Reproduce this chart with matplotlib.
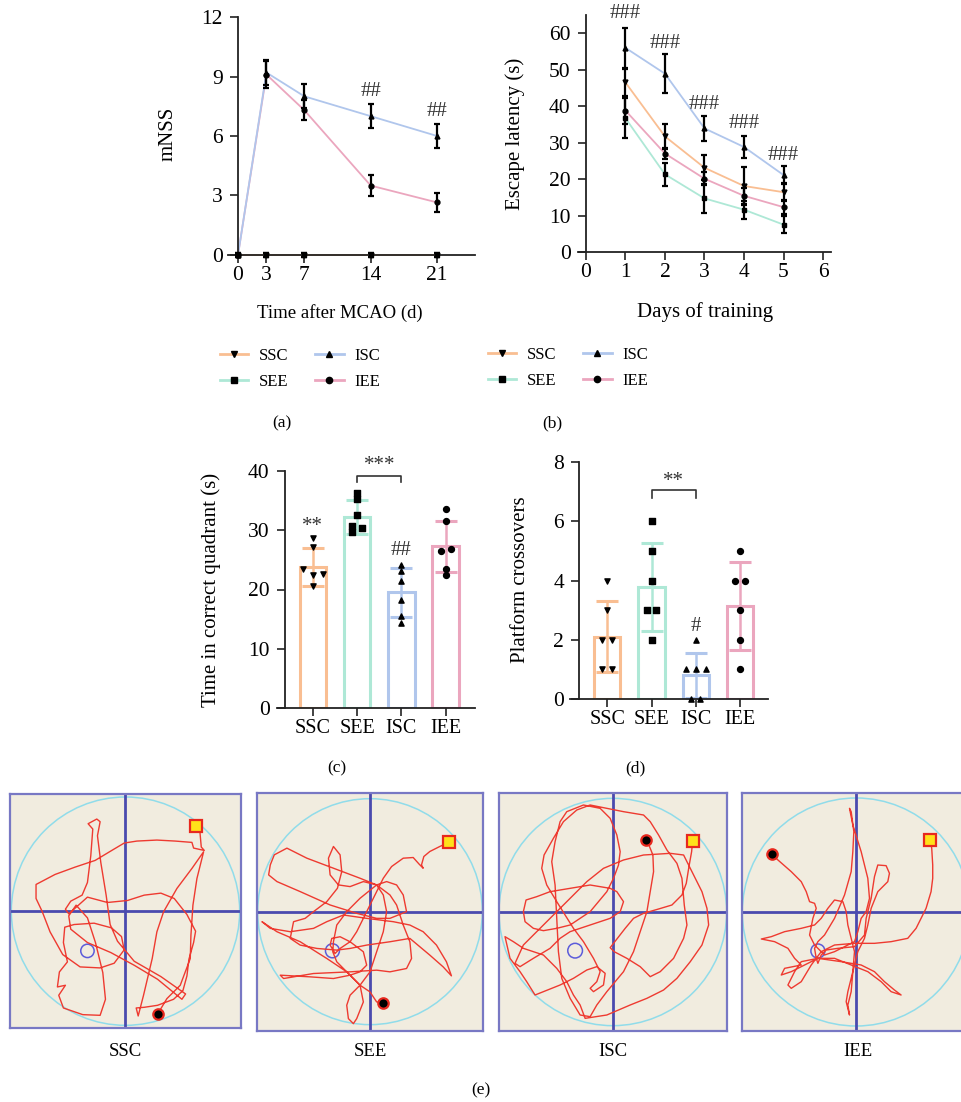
import matplotlib
matplotlib.use("Agg")
import matplotlib.pyplot as plt
from matplotlib.lines import Line2D
from matplotlib.patches import Circle
import numpy as np

plt.rcParams["font.family"] = ["Liberation Serif", "DejaVu Serif"]
plt.rcParams["font.size"] = 15

W, H = 962, 1102

groups = ["SSC", "SEE", "ISC", "IEE"]
colors = {"SSC": "#F9BE92", "SEE": "#AEE8D6", "ISC": "#B0C6EC", "IEE": "#EBA6BE"}
markers = {"SSC": "v", "SEE": "s", "ISC": "^", "IEE": "o"}

# (a) mNSS
days_a = [0, 3, 7, 14, 21]
mnss = {"SSC": [0, 0, 0, 0, 0], "SEE": [0, 0, 0, 0, 0],
        "ISC": [0, 9.2, 8.0, 7.0, 6.0], "IEE": [0, 9.1, 7.3, 3.5, 2.65]}
mnss_err = {"SSC": [0.08, 0.08, 0.08, 0.08, 0.08], "SEE": [0.08, 0.08, 0.08, 0.08, 0.08],
            "ISC": [0, 0.65, 0.6, 0.6, 0.6], "IEE": [0, 0.7, 0.5, 0.55, 0.5]}
mnss_sig = ["", "", "", "##", "##"]

# (b) escape latency
days_b = [1, 2, 3, 4, 5]
latency = {"SSC": [46.5, 31.7, 23.1, 18.1, 16.4], "SEE": [36.7, 21.3, 14.7, 11.6, 7.5],
           "ISC": [56.0, 48.9, 33.9, 28.8, 21.1], "IEE": [38.8, 27.0, 20.1, 15.4, 12.3]}
latency_err = {"SSC": [3.8, 3.4, 3.4, 5.2, 2.5], "SEE": [5.4, 3.1, 4.0, 2.5, 2.3],
               "ISC": [5.5, 5.4, 3.5, 3.1, 2.4], "IEE": [3.6, 1.5, 1.8, 2.1, 1.9]}
latency_sig = ["###", "###", "###", "###", "###"]
latency_sig_y = [65.5, 57.3, 40.5, 35.3, 26.6]

# (c) time in correct quadrant
quad_mean = [23.8, 32.2, 19.5, 27.3]
quad_sd = [3.2, 2.9, 4.1, 4.3]
quad_pts = {"SSC": [28.7, 27.2, 23.4, 22.4, 22.6, 20.6],
            "SEE": [36.3, 35.2, 32.5, 30.7, 30.4, 29.7],
            "ISC": [24.1, 23.2, 21.5, 18.2, 15.6, 14.4],
            "IEE": [33.6, 31.6, 26.5, 26.9, 23.5, 22.4]}
quad_jit = {"SSC": [0, 0, -0.22, 0, 0.23, 0], "SEE": [0, 0, 0, -0.11, 0.11, -0.11],
            "ISC": [0, 0, 0, 0, 0, 0], "IEE": [0, 0, -0.11, 0.11, 0, 0]}

# (d) platform crossovers
cross_mean = [2.1, 3.78, 0.8, 3.13]
cross_sd = [1.2, 1.48, 0.76, 1.48]
cross_pts = {"SSC": [4, 3, 2, 2, 1, 1], "SEE": [6, 5, 4, 3, 3, 2],
             "ISC": [2, 1, 1, 1, 0, 0], "IEE": [5, 4, 4, 3, 2, 1]}
cross_jit = {"SSC": [0, 0, -0.11, 0.11, -0.11, 0.11], "SEE": [0, 0, 0, -0.11, 0.11, 0],
             "ISC": [0, -0.22, 0, 0.22, -0.1, 0.1], "IEE": [0, -0.11, 0.11, 0, 0, 0]}

# (e) swim tracks, read on each box's own grid: frame (x0, x1, y0, y1)
frames = {"SSC": (30, 722, 27, 728), "SEE": (20, 700, 25, 737),
          "ISC": (27, 710, 24, 738), "IEE": (22, 707, 24, 738)}
pool = {"SSC": (376, 378, 342), "SEE": (360, 380, 338), "ISC": (368, 381, 341), "IEE": (365, 381, 342)}
platform = {"SSC": (262, 497, 20), "SEE": (247, 497, 21), "ISC": (255, 497, 22), "IEE": (250, 498, 21)}
start_sq = {"SSC": (587, 122), "SEE": (597, 173), "ISC": (607, 168), "IEE": (588, 165)}
end_dot = {"SSC": (473, 685), "SEE": (398, 652), "ISC": (468, 166), "IEE": (112, 208)}

track_ssc = [
    (587, 122), (598, 130), (603, 186), (612, 196), (598, 193), (580, 189), (575, 172), (525, 168), (470, 165),
    (410, 168), (372, 174), (335, 196), (285, 226), (225, 246), (165, 268), (108, 298), (108, 340), (126, 378),
    (150, 440), (188, 508), (240, 545), (300, 548), (342, 534), (372, 494), (364, 454), (334, 428), (282, 414),
    (222, 418), (194, 426), (190, 472), (202, 530), (178, 560), (172, 605), (196, 600), (176, 630), (190, 668),
    (248, 688), (300, 690), (316, 642), (308, 562), (286, 472), (262, 398), (228, 360), (206, 392), (212, 432),
    (262, 472), (332, 502), (402, 540), (472, 582), (545, 642), (556, 626), (482, 574), (402, 528), (352, 468),
    (330, 418), (318, 330), (302, 232), (292, 152), (300, 110), (290, 102), (264, 116), (278, 132), (272, 212),
    (262, 292), (246, 330), (212, 348), (196, 372), (206, 386), (262, 336), (322, 352), (382, 346), (432, 330),
    (482, 324), (522, 340), (560, 388), (586, 438), (580, 472), (566, 522), (560, 572), (548, 616), (520, 642),
    (472, 660), (432, 666), (408, 668), (414, 692), (430, 630), (456, 520), (470, 440), (490, 380), (530, 310),
    (575, 250), (610, 200), (590, 280), (578, 360), (572, 450), (570, 520), (540, 600), (500, 640), (473, 685)]

track_see = [
    (597, 173), (570, 185), (540, 200), (522, 215), (515, 240), (520, 250), (508, 238), (490, 218), (460, 220),
    (425, 245), (400, 280), (380, 320), (360, 360), (340, 400), (320, 440), (300, 470), (270, 490), (255, 505),
    (240, 480), (245, 460), (270, 455), (300, 470), (340, 500), (350, 540), (330, 560), (300, 570), (250, 580),
    (180, 575), (90, 570), (100, 580), (190, 565), (300, 560), (380, 555), (420, 560), (470, 550), (485, 520),
    (480, 470), (460, 420), (440, 360), (420, 330), (380, 300), (340, 290), (300, 305), (265, 300), (240, 270),
    (235, 220), (250, 185), (270, 210), (275, 260), (262, 310), (230, 350), (190, 380), (165, 400), (130, 410),
    (120, 460), (150, 480), (200, 490), (260, 495), (300, 490), (350, 480), (420, 470), (480, 460), (540, 510),
    (580, 545), (605, 572), (590, 530), (560, 480), (520, 440), (480, 420), (430, 410), (350, 400), (280, 390),
    (230, 410), (190, 430), (120, 440), (60, 430), (35, 410), (80, 440), (150, 470), (230, 520), (290, 560),
    (330, 600), (340, 650), (320, 700), (310, 715), (295, 700), (290, 660), (300, 630), (330, 600), (360, 560),
    (380, 500), (400, 440), (410, 380), (400, 330), (380, 300), (330, 280), (250, 250), (170, 220), (110, 190),
    (72, 210), (60, 240), (55, 270), (80, 290), (150, 320), (240, 360), (320, 385), (380, 400), (420, 400),
    (470, 380), (460, 330), (440, 300), (410, 290), (380, 300), (330, 340), (290, 380), (260, 420), (250, 470),
    (248, 500), (260, 530), (290, 560), (310, 580), (330, 600), (360, 620), (380, 650), (398, 652)]

track_isc = [
    (607, 168), (604, 200), (596, 245), (588, 295), (575, 330), (545, 360), (505, 372), (460, 385), (430, 400),
    (405, 430), (378, 465), (360, 488), (372, 500), (410, 520), (450, 545), (480, 575), (510, 560), (550, 520),
    (580, 460), (590, 420), (582, 360), (575, 280), (560, 235), (530, 195), (505, 150), (480, 110), (460, 90),
    (400, 80), (350, 70), (300, 60), (260, 75), (220, 110), (190, 160), (162, 210), (155, 250), (170, 300),
    (200, 350), (225, 390), (250, 430), (280, 470), (310, 520), (330, 560), (320, 590), (300, 610), (310, 620),
    (340, 600), (345, 565), (320, 545), (290, 555), (250, 580), (210, 600), (160, 620), (135, 630), (110, 590),
    (90, 560), (60, 520), (45, 455), (70, 470), (100, 490), (130, 500), (160, 510), (200, 550), (230, 590),
    (250, 630), (270, 660), (285, 700), (350, 690), (420, 660), (470, 640), (520, 615), (560, 580), (600, 530),
    (635, 480), (655, 420), (650, 370), (635, 320), (615, 280), (600, 250), (590, 230), (580, 210), (540, 205),
    (460, 210), (400, 225), (340, 250), (290, 290), (250, 330), (210, 370), (170, 410), (130, 450), (100, 480),
    (75, 535), (90, 545), (130, 520), (180, 490), (210, 460), (240, 440), (300, 420), (360, 400), (390, 380),
    (400, 350), (380, 320), (360, 310), (300, 300), (240, 310), (180, 320), (140, 335), (108, 345), (100, 380),
    (105, 410), (130, 430), (160, 437), (200, 430), (240, 420), (300, 380), (350, 320), (370, 280), (385, 240),
    (390, 200), (380, 150), (360, 100), (330, 70), (280, 60), (230, 80), (210, 110), (195, 170), (185, 230),
    (195, 300), (200, 400), (205, 500), (215, 580), (240, 640), (270, 690), (300, 695), (320, 660), (350, 620),
    (400, 560), (430, 500), (450, 440), (470, 380), (480, 320), (490, 260), (488, 210), (478, 185), (468, 166)]

track_iee = [
    (112, 208), (130, 225), (170, 260), (200, 290), (215, 320), (225, 350), (240, 355), (245, 370), (235, 400),
    (225, 450), (240, 480), (270, 510), (300, 500), (340, 480), (360, 470), (370, 440), (380, 400), (395, 380),
    (405, 340), (400, 280), (380, 200), (355, 120), (345, 70), (350, 80), (358, 140), (355, 200), (350, 260),
    (330, 330), (300, 400), (270, 450), (250, 470), (240, 490), (245, 520), (250, 535), (260, 510), (275, 495),
    (310, 490), (360, 485), (390, 450), (395, 400), (410, 340), (420, 275), (430, 240), (455, 242), (465, 265),
    (460, 290), (430, 320), (410, 370), (400, 420), (390, 460), (370, 500), (360, 540), (350, 580), (340, 620),
    (335, 650), (345, 690), (340, 660), (350, 620), (355, 560), (360, 500), (350, 460), (340, 420), (335, 380),
    (325, 350), (300, 345), (280, 370), (260, 400), (240, 420), (200, 430), (150, 440), (110, 455), (80, 462),
    (120, 470), (160, 490), (180, 520), (200, 540), (150, 550), (140, 570), (170, 560), (200, 545), (250, 520),
    (300, 520), (350, 540), (400, 560), (440, 590), (470, 620), (500, 630), (480, 615), (450, 590), (420, 560),
    (380, 540), (320, 530), (250, 520), (200, 530), (180, 560), (160, 600), (170, 610), (200, 590), (230, 540),
    (260, 500), (300, 480), (360, 475), (420, 475), (470, 470), (520, 460), (545, 430), (560, 400), (575, 370),
    (590, 320), (595, 280), (595, 240), (592, 190), (588, 165)]

tracks = {"SSC": track_ssc, "SEE": track_see, "ISC": track_isc, "IEE": track_iee}

SIG = dict(ha="center", va="center", fontsize=15, color="#333333")


def rect(x0, y0, x1, y1):
    return [x0 / W, 1 - y1 / H, (x1 - x0) / W, (y1 - y0) / H]


def ftext(x, y, s, **kw):
    fig.text(x / W, 1 - y / H, s, ha=kw.pop("ha", "center"), va=kw.pop("va", "center"), **kw)


def style_axes(ax, left_at, xsize=15.5):
    for s in ["top", "right"]:
        ax.spines[s].set_visible(False)
    for s in ["left", "bottom"]:
        ax.spines[s].set_color("#222222")
        ax.spines[s].set_linewidth(1.3)
    ax.spines["left"].set_position(("data", left_at))
    ax.tick_params(direction="out", length=6, width=1.2, color="#222222")
    ax.tick_params(axis="y", pad=5, labelsize=15.5)
    ax.tick_params(axis="x", pad=2, labelsize=xsize)
    ax.set_facecolor("none")


fig = plt.figure(figsize=(W / 100, H / 100), dpi=100)

# ---- (a)
ax = fig.add_axes(rect(228.5, 17, 475, 255))
for g in ["SEE", "SSC", "IEE", "ISC"]:
    ax.plot(days_a, mnss[g], color=colors[g], lw=1.3, zorder=2, clip_on=False)
    ax.errorbar(days_a, mnss[g], yerr=mnss_err[g], fmt=markers[g], color="black", ms=3.5,
                ecolor="black", elinewidth=1.6, capsize=2.5, capthick=1.6, zorder=3, clip_on=False)
for d, s, y, e in zip(days_a, mnss_sig, mnss["ISC"], mnss_err["ISC"]):
    if s:
        ax.text(d, y + e + 0.65, s, **SIG)
ax.set_xlim(-1, 25)
ax.set_ylim(0, 12)
ax.set_xticks(days_a)
ax.set_yticks([0, 3, 6, 9, 12])
style_axes(ax, 0)
ftext(168, 134, "mNSS", rotation=90)
ftext(340, 313, "Time after MCAO (d)", fontsize=13.5)

handles = [Line2D([], [], color=colors[g], lw=2, marker=markers[g], mfc="black", mec="black", ms=4.5)
           for g in groups]
leg_kw = dict(ncol=2, loc="center", frameon=False, handlelength=1.7, handletextpad=0.65,
              columnspacing=1.6, labelspacing=0.6, numpoints=1, fontsize=12)
fig.legend(handles, groups, bbox_to_anchor=(300 / W, 1 - 369 / H), **leg_kw)
ftext(282, 423, "(a)", fontsize=12.5)

# ---- (b)
ax = fig.add_axes(rect(578, 15, 831, 252))
for g in ["SSC", "ISC", "IEE", "SEE"]:
    ax.plot(days_b, latency[g], color=colors[g], lw=1.3, zorder=2)
    ax.errorbar(days_b, latency[g], yerr=latency_err[g], fmt=markers[g], color="black", ms=3.5,
                ecolor="black", elinewidth=1.6, capsize=2.5, capthick=1.6, zorder=3)
for d, s, y in zip(days_b, latency_sig, latency_sig_y):
    ax.text(d, y, s, clip_on=False, **SIG)
ax.set_xlim(-0.2, 6.2)
ax.set_ylim(0, 65)
ax.set_xticks(range(0, 7))
ax.set_yticks(range(0, 61, 10))
style_axes(ax, 0)
ftext(515, 134, "Escape latency (s)", rotation=90)
ftext(705, 312, "Days of training")
fig.legend(handles, groups, bbox_to_anchor=(568 / W, 1 - 368 / H), **leg_kw)
ftext(552, 423, "(b)", fontsize=12.5)


def bar_panel(ax, means, sds, pts, jit):
    x = np.arange(len(groups))
    for i, g in enumerate(groups):
        ax.bar(x[i], means[i], width=0.6, facecolor="white", edgecolor=colors[g], linewidth=2.2, zorder=1)
        ax.errorbar(x[i], means[i], yerr=sds[i], fmt="none", ecolor=colors[g], elinewidth=1.8,
                    capsize=8, capthick=2.2, zorder=2)
        ms = {"v": 14, "s": 22, "^": 14, "o": 18}[markers[g]]
        ax.scatter(x[i] + np.array(jit[g]), pts[g], marker=markers[g], s=ms, color="black", zorder=3,
                   clip_on=False)
    ax.set_xticks(x)
    ax.set_xticklabels(groups)


def bracket(ax, x0, x1, y, drop, label, ty):
    ax.plot([x0, x0, x1, x1], [y - drop, y, y, y - drop], color="#333333", lw=1.2, clip_on=False)
    ax.text((x0 + x1) / 2, ty, label, **SIG)


# ---- (c)
ax = fig.add_axes(rect(277, 471, 475, 708))
bar_panel(ax, quad_mean, quad_sd, quad_pts, quad_jit)
ax.set_xlim(-0.81, 3.66)
ax.set_ylim(0, 40)
ax.set_yticks(range(0, 41, 10))
style_axes(ax, -0.63, xsize=14.5)
bracket(ax, 1, 2, 39.2, 1.1, "***", 40.9)
ax.text(0, 30.6, "**", **SIG)
ax.text(2, 26.5, "##", **SIG)
ftext(211, 590, "Time in correct quadrant (s)", rotation=90)
ftext(337, 768, "(c)", fontsize=12.5)

# ---- (d)
ax = fig.add_axes(rect(570, 462, 768, 699))
bar_panel(ax, cross_mean, cross_sd, cross_pts, cross_jit)
ax.set_xlim(-0.84, 3.63)
ax.set_ylim(0, 8)
ax.set_yticks(range(0, 9, 2))
style_axes(ax, -0.63, xsize=14.5)
bracket(ax, 1, 2, 7.05, 0.25, "**", 7.35)
ax.text(2, 2.45, "#", **SIG)
ftext(521, 580, "Platform crossovers", rotation=90)
ftext(635, 768, "(d)", fontsize=12.5)

# ---- (e)
boxes = {"SSC": (10, 794, 241, 1028), "SEE": (257, 793, 483, 1031),
         "ISC": (499, 793, 727, 1031), "IEE": (742, 793, 970, 1031)}
for g in groups:
    bx = boxes[g]
    ax = fig.add_axes(rect(*bx))
    fx0, fx1, fy0, fy1 = frames[g]
    ax.set_xlim(fx0, fx1)
    ax.set_ylim(fy1, fy0)
    ax.set_facecolor("#F1ECDF")
    ax.set_xticks([])
    ax.set_yticks([])
    for s in ax.spines.values():
        s.set_color("#7878C4")
        s.set_linewidth(1.6)
    cx, cy, r = pool[g]
    ax.add_patch(Circle((cx, cy), r, fill=False, edgecolor="#90DCEA", lw=1.1))
    ax.axvline(cx, color="#4A4AAE", lw=2.0)
    ax.axhline(cy, color="#4A4AAE", lw=2.0)
    px, py, pr = platform[g]
    ax.add_patch(Circle((px, py), pr, fill=False, edgecolor="#5C5CDA", lw=1.1))
    tx, ty = zip(*tracks[g])
    ax.plot(tx, ty, color="#EE3A30", lw=1.0, solid_joinstyle="round")
    sx, sy = start_sq[g]
    ax.plot(sx, sy, marker="s", ms=8, mfc="#FFE11A", mec="#E8281E", mew=1.6)
    ex, ey = end_dot[g]
    ax.plot(ex, ey, marker="o", ms=7.5, mfc="black", mec="#E8281E", mew=1.6)
    ftext((bx[0] + bx[2]) / 2 if g != "IEE" else 858, 1051, g, fontsize=13.5)
ftext(481, 1090, "(e)", fontsize=12.5)

fig.savefig("out.png", dpi=100, facecolor="white")
